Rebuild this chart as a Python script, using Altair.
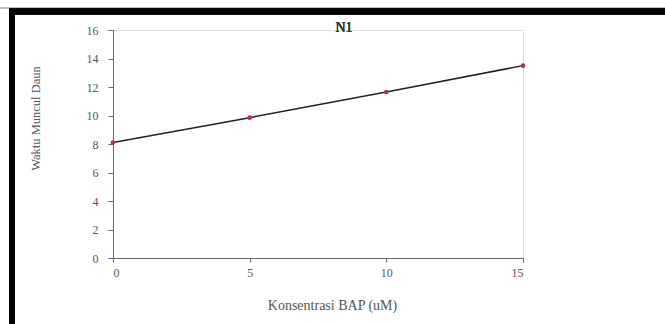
import altair as alt
import pandas as pd

konsentrasi = [0, 5, 10, 15]
waktu = [8.1, 9.85, 11.65, 13.5]
x_ticks = [0, 5, 10, 15]
y_ticks = [0, 2, 4, 6, 8, 10, 12, 14, 16]

df = pd.DataFrame({"x": konsentrasi, "y": waktu})

W, H = 410, 228
FONT = "Liberation Serif"

xs = alt.Scale(domain=[0, 15], nice=False)
ys = alt.Scale(domain=[0, 16], nice=False)

xaxis = alt.Axis(values=x_ticks, title="Konsentrasi BAP (uM)", grid=False,
                 tickSize=4, labelPadding=5, domainColor="#666", tickColor="#666",
                 labelColor="#555", titleColor="#555", labelFont=FONT, titleFont=FONT,
                 labelFontSize=12, titleFontSize=14, titleFontWeight="normal",
                 labelOverlap=False, tickCount=4,
                 titleX=219, titleY=47, titleBaseline="middle", titleAnchor="middle")
yaxis = alt.Axis(values=y_ticks, title="Waktu Muncul Daun", grid=False,
                 tickSize=5, labelPadding=10, domainColor="#666", tickColor="#666",
                 labelColor="#555", titleColor="#555", labelFont=FONT, titleFont=FONT,
                 labelFontSize=12, titleFontSize=12.5, titleFontWeight="normal",
                 labelOverlap=False, tickCount=9,
                 titleX=-78, titleY=88, titleAngle=270, titleBaseline="middle", titleAnchor="middle")

line = alt.Chart(df).mark_line(color="#222", strokeWidth=1.5).encode(
    x=alt.X("x:Q", scale=xs, axis=xaxis),
    y=alt.Y("y:Q", scale=ys, axis=yaxis),
)
pts = alt.Chart(df).mark_point(filled=True, color="#b0305a", size=22, opacity=1).encode(
    x=alt.X("x:Q", scale=xs, axis=xaxis),
    y=alt.Y("y:Q", scale=ys, axis=yaxis),
)
title = alt.Chart(df).mark_text(text="N1", font=FONT, fontSize=14, fontWeight=400,
                                color="#333").encode(
    x=alt.value(231), y=alt.value(-2)
)
frame_top = alt.Chart(df).mark_rule(color="black", strokeWidth=6).encode(
    x=alt.value(-104), x2=alt.value(560), y=alt.value(-18.5)
)
frame_left = alt.Chart(df).mark_rule(color="black", strokeWidth=6).encode(
    x=alt.value(-101), y=alt.value(-21), y2=alt.value(300)
)
grey_top = alt.Chart(df).mark_rule(color="#bbb", strokeWidth=1).encode(
    x=alt.value(-113), x2=alt.value(560), y=alt.value(-22)
)

chart = alt.layer(grey_top, frame_top, frame_left, line, pts, title).properties(
    width=W, height=H,
    autosize=alt.AutoSizeParams(type="none"),
    padding={"left": 113, "top": 30, "right": 142, "bottom": 66},
).configure_view(stroke=None).configure(background="white")

chart.save("out.html", embed_options={"renderer": "svg", "actions": False})
